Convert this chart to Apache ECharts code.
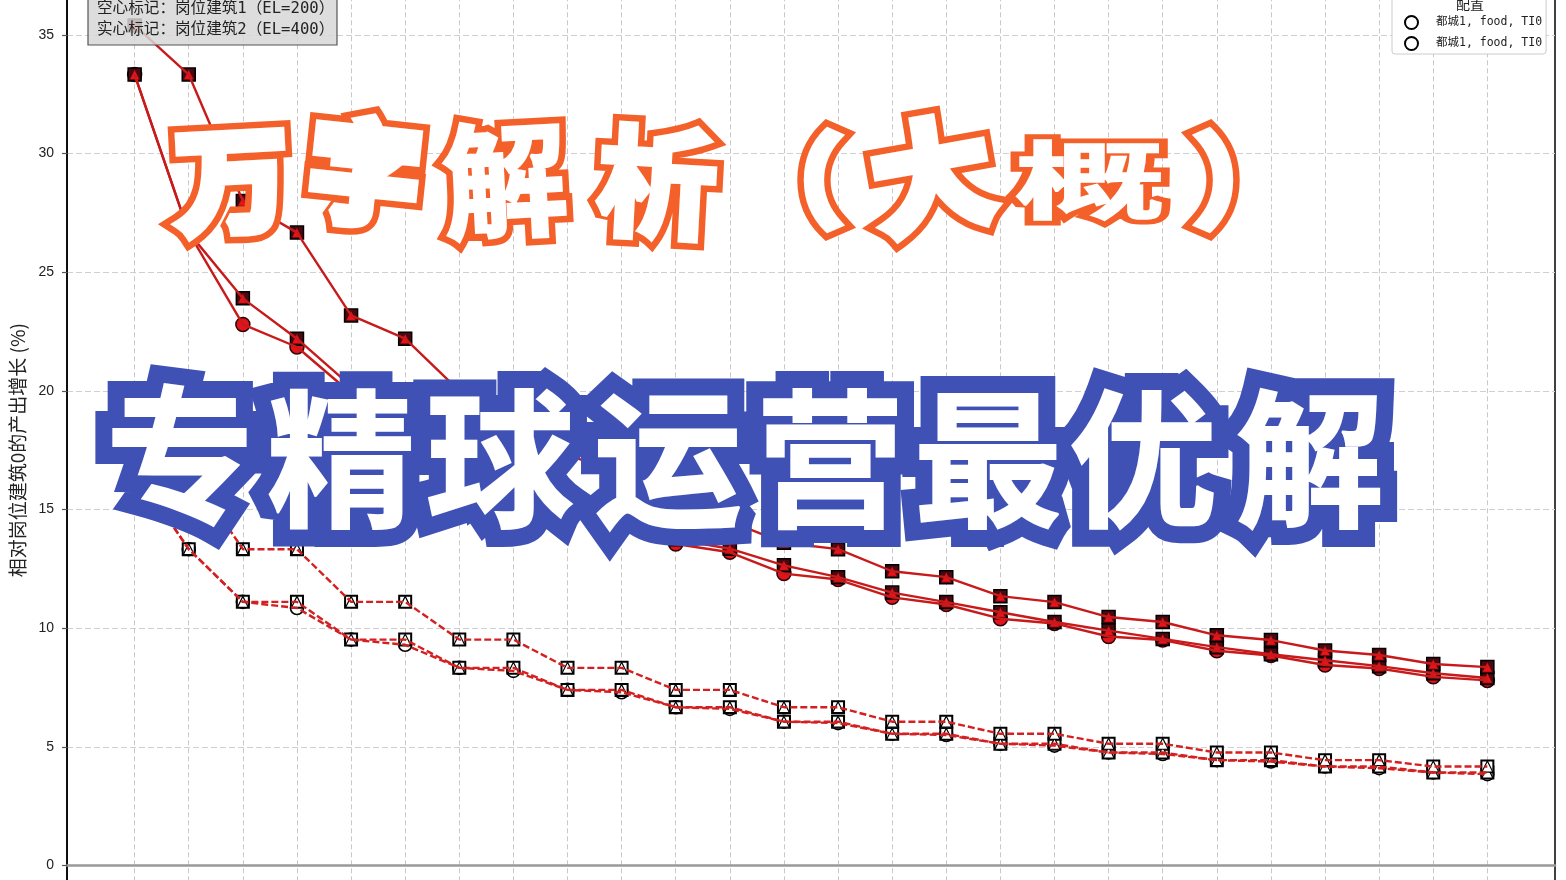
<!DOCTYPE html>
<html>
<head>
<meta charset="utf-8">
<style>html,body{margin:0;padding:0;background:#fff;overflow:hidden}#c{width:1566px;height:880px}</style>
<script src="https://cdn.jsdelivr.net/npm/echarts@6/dist/echarts.min.js"></script>
</head>
<body>
<div id="c"></div>
<script>
var xIndex = [0,1,2,3,4,5,6,7,8,9,10,11,12,13,14,15,16,17,18,19,20,21,22,23,24,25];
var yTicks = [0,5,10,15,20,25,30,35];
var legendNames = ['都城1, food, TI0', '都城1, food, TI0 '];
var yTitle = '相对岗位建筑0的产出增长 (%)';
var noteLines = ['空心标记：岗位建筑1（EL=200）', '实心标记：岗位建筑2（EL=400）'];
var solidTop = [35.4,33.33,28,26.67,23.18,22.2,20,19,17.3,16.5,15,14.5,13.6,13.33,12.4,12.15,11.35,11.1,10.47,10.26,9.7,9.5,9.06,8.87,8.49,8.36];
var solidMid = [33.33,26.67,23.9,22.2,20.2,18.6,17.3,16.4,15.6,15,13.75,13.35,12.65,12.15,11.5,11.1,10.67,10.26,9.9,9.55,9.2,8.9,8.65,8.4,8.1,7.9];
var solidLow = [33.33,26.67,22.8,21.85,19.9,18.4,16.5,16,15.1,14.6,13.55,13.2,12.3,12.05,11.3,11,10.4,10.2,9.65,9.5,9.05,8.85,8.45,8.3,7.95,7.8];
var hollowTop = [17.7,16.67,13.33,13.33,11.11,11.11,9.52,9.52,8.33,8.33,7.4,7.4,6.67,6.67,6.06,6.06,5.55,5.55,5.13,5.13,4.76,4.76,4.44,4.44,4.17,4.17];
var hollowMid = [16.67,13.33,11.11,11.11,9.52,9.52,8.33,8.33,7.4,7.4,6.67,6.67,6.06,6.06,5.55,5.55,5.13,5.13,4.76,4.76,4.44,4.44,4.17,4.17,3.92,3.92];
var hollowLow = [16.67,13.33,11.11,10.85,9.52,9.3,8.33,8.2,7.4,7.3,6.67,6.6,6.06,6,5.55,5.5,5.13,5.05,4.76,4.7,4.44,4.38,4.17,4.1,3.92,3.85];
var headA = ['万','字','解','析','（','大','概','）'];
var headB = ['专','精','球','运','营','最','优','解'];

function pts(a){ return a.map(function(v,i){ return [xIndex[i], v]; }); }
var DARK = '#4a0810', FONT_CJK = '"Noto Sans CJK SC"', FONT_MONO = '"DejaVu Sans Mono","Noto Sans CJK SC"';

function marks(data, symbol, fill, border, size, bw, z){
  return {type:'line', data:pts(data), symbol:symbol, symbolSize:size, showSymbol:true, silent:true,
    lineStyle:{opacity:0}, itemStyle:{color:fill, borderColor:border, borderWidth:bw, opacity:1}, z:z, animation:false};
}
function line(data, dashed, z){
  return {type:'line', data:pts(data), showSymbol:false, silent:true,
    lineStyle:{color:dashed?'#d42020':'#c81a1a', width:2.4, type:dashed?[7,3]:'solid'}, z:z, animation:false};
}
var series = [
  marks(hollowLow,'circle','#fff','#000',13,1.6,2),
  marks(hollowMid,'rect','#fff','#000',12,2,2),
  marks(hollowTop,'rect','#fff','#000',12,2,2),
  marks(hollowMid,'triangle','#fff','#000',11,1.2,2),
  marks(hollowTop,'triangle','#fff','#000',11,1.2,2),
  line(hollowLow,true,3), line(hollowMid,true,3), line(hollowTop,true,3),
  marks(solidLow,'circle','#e0141a','#2a0508',14,1.5,4),
  marks(solidMid,'rect',DARK,'#000',13,1.5,4),
  marks(solidTop,'rect',DARK,'#000',13,1.5,4),
  marks(solidMid,'triangle','#e8141a',DARK,10,0.5,5),
  marks(solidTop,'triangle','#e8141a',DARK,10,0.5,5),
  line(solidLow,false,6), line(solidMid,false,6), line(solidTop,false,6),
  {type:'line', name:legendNames[0], data:[], symbol:'circle', itemStyle:{color:'#fff',borderColor:'#000',borderWidth:1.6}, lineStyle:{opacity:0}},
  {type:'line', name:legendNames[1], data:[], symbol:'circle', itemStyle:{color:'#fff',borderColor:'#000',borderWidth:1.6}, lineStyle:{opacity:0}}
];

function glyphs(chars, xs, ys, sizes, rots, sx, sy, strokeColor, ring, fatten, shadow){
  var out = [];
  [0,1].forEach(function(pass){
    chars.forEach(function(c,i){
      var st = {text:c, font:'700 '+sizes[i]+'px '+FONT_CJK, textAlign:'center', textVerticalAlign:'middle'};
      if(pass===0){
        st.fill = strokeColor; st.stroke = strokeColor; st.lineWidth = fatten[i]+ring; st.lineJoin = 'miter'; st.miterLimit = 3;
        if(shadow){ st.shadowBlur = shadow; st.shadowColor = '#3f51b5'; }
      } else {
        st.fill = '#fff'; st.stroke = '#fff'; st.lineWidth = fatten[i]; st.lineJoin = 'miter'; st.miterLimit = 2;
      }
      out.push({type:'text', silent:true, x:xs[i], y:ys[i], rotation:rots[i]*Math.PI/180,
        scaleX:sx[i], scaleY:sy[i], originX:0, originY:0, z:100+pass, style:st});
    });
  });
  return out;
}
var g = [];
g.push({type:'rect', silent:true, z:50, shape:{x:88,y:-10,width:249,height:55},
  style:{fill:'rgba(215,215,215,0.85)', stroke:'#555', lineWidth:1.2}});
noteLines.forEach(function(t,i){
  g.push({type:'text', silent:true, z:51, x:97, y:9+i*21,
    style:{text:t, font:'15.6px '+FONT_MONO, fill:'#222', textVerticalAlign:'middle'}});
});
g.push({type:'text', silent:true, z:51, x:1470, y:4,
  style:{text:'配置', font:'14px '+FONT_CJK, fill:'#222', textAlign:'center', textVerticalAlign:'middle'}});
g = g.concat(glyphs(headA,
  [232,365,505,657,792,932,1090,1245],
  [180,172,180,182,180,175,180,180],
  [112,112,125,120,100,118,112,100],
  [3,-6,3,-3,0,10,0,0],
  [1,1,1,1,1,1,1.35,1],[1,1,1,1,1,1,.75,1],
  '#f4602a', 13, [11,11,3,6,9,11,2,9], 12));
g = g.concat(glyphs(headB,
  [180,341,500,668,830,988,1143,1310],
  [455,459,459,459,459,459,459,459],
  [148,148,148,148,148,148,148,148],
  [0,0,0,0,0,0,0,0],
  [1,1,1,1,1,1,1,1],[1,1,1,1,1,1,1,1],
  '#3f51b5', 34, [2,2,2,2,2,2,2,2], 4));

var chart = echarts.init(document.getElementById('c'), null, {renderer:'canvas'});
chart.setOption({
  animation:false,
  backgroundColor:'#fff',
  grid:{left:67, width:1488, top:-83.7, height:1067.85, show:true, borderColor:'#000', borderWidth:1.5, containLabel:false, outerBoundsMode:'none', backgroundColor:'transparent'},
  legend:{
    data:legendNames.map(function(n){ return {name:n, icon:'circle'}; }),
    orient:'vertical', left:1392, top:-19, width:155,
    padding:[34,4,3,12], itemWidth:13, itemHeight:13, itemGap:6, align:'left',
    backgroundColor:'#fff', borderColor:'#ccc', borderWidth:1, borderRadius:3, selectedMode:false,
    formatter:function(n){ return n.trim(); },
    textStyle:{fontFamily:FONT_MONO, fontSize:11.5, color:'#222', padding:[0,6,0,13]}
  },
  xAxis:{type:'value', min:-1.25, max:26.25,
    axisLine:{onZero:true, lineStyle:{color:'#999', width:2.5}},
    axisTick:{show:false, customValues:xIndex},
    axisLabel:{show:false, customValues:xIndex},
    splitLine:{show:true, lineStyle:{color:'#c8c8c8', type:[5,3], width:1}}
  },
  yAxis:{type:'value', min:-5, max:40, interval:5,
    name:yTitle, nameLocation:'middle', nameGap:32, nameRotate:90,
    nameTextStyle:{fontFamily:FONT_CJK, fontSize:19, color:'#222'},
    axisLine:{show:true, onZero:false, lineStyle:{color:'#000', width:1.5}},
    axisTick:{show:true, length:5, lineStyle:{color:'#555', width:1.2}},
    axisLabel:{fontFamily:'"Liberation Sans"', fontSize:14, color:'#222', margin:13,
      formatter:function(v){ return yTicks.indexOf(v)>=0 ? String(v) : ''; }},
    splitLine:{show:true, lineStyle:{color:'#d0d0d0', type:[6,3], width:1.2}}
  },
  series:series,
  graphic:{elements:g}
});
</script>
</body>
</html>
